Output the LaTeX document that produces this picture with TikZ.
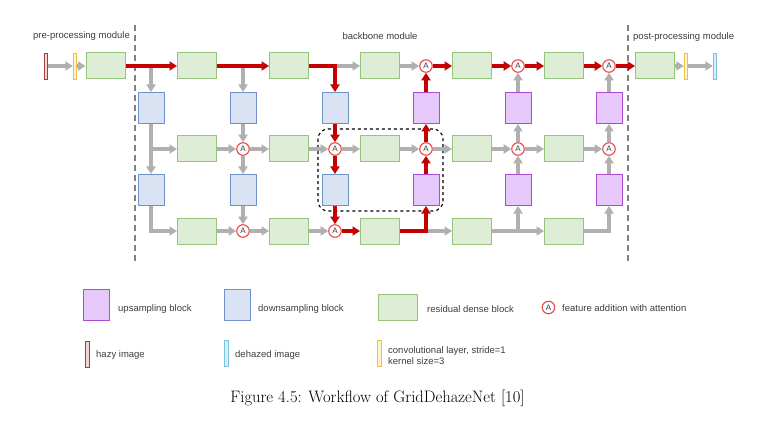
\documentclass[tikz,border=0pt]{standalone}
\usepackage{fontspec}
\usetikzlibrary{arrows.meta}
\newfontfamily\labelfont{Liberation Sans}

\definecolor{rdbfill}{RGB}{222,237,214}
\definecolor{rdbline}{RGB}{150,196,125}
\definecolor{dwnfill}{RGB}{218,227,243}
\definecolor{dwnline}{RGB}{112,144,204}
\definecolor{upfill}{RGB}{230,201,250}
\definecolor{upline}{RGB}{172,74,212}
\definecolor{hazyfill}{RGB}{246,212,212}
\definecolor{hazyline}{RGB}{170,60,60}
\definecolor{convfill}{RGB}{255,244,205}
\definecolor{convline}{RGB}{242,190,60}
\definecolor{clearfill}{RGB}{215,238,250}
\definecolor{clearline}{RGB}{125,195,225}
\definecolor{flowgray}{RGB}{176,176,176}
\definecolor{flowred}{RGB}{196,0,0}
\definecolor{addred}{RGB}{236,70,70}
\definecolor{txtgray}{RGB}{60,60,60}

\tikzset{
  rdb/.style={draw=rdbline, fill=rdbfill, line width=1pt, minimum width=39pt, minimum height=26pt, inner sep=0pt},
  dwn/.style={draw=dwnline, fill=dwnfill, line width=1pt, minimum width=26pt, minimum height=31pt, inner sep=0pt},
  upb/.style={draw=upline, fill=upfill, line width=1pt, minimum width=26pt, minimum height=31pt, inner sep=0pt},
  addA/.style={circle, draw=addred, fill=white, line width=1.1pt, minimum size=12.5pt, inner sep=0pt,
    font=\labelfont\fontsize{8}{8}\selectfont, text=txtgray},
  thinbar/.style={line width=0.8pt, minimum width=3.5pt, minimum height=26pt, inner sep=0pt},
  hazybar/.style={thinbar, draw=hazyline, fill=hazyfill},
  convbar/.style={thinbar, draw=convline, fill=convfill},
  clearbar/.style={thinbar, draw=clearline, fill=clearfill},
  gflow/.style={draw=flowgray, line width=3.2pt, -{Triangle[length=7.5pt,width=9pt]}},
  rflow/.style={draw=flowred, line width=3.2pt, -{Triangle[length=7.5pt,width=9pt]}},
  lbl/.style={font=\labelfont\fontsize{9.5}{11}\selectfont, text=txtgray, inner sep=0pt},
  moduleline/.style={draw=black!50, line width=2.6pt, dash pattern=on 6pt off 4pt}
}

\begin{document}
\begin{tikzpicture}[x=1pt, y=-1pt]

  \useasboundingbox (0,0) rectangle (762,422);

  % module separators and titles
  \draw[moduleline] (135,25) -- (135,263);
  \draw[moduleline] (628,25) -- (628,263);
  \node[lbl, anchor=west] (pretitle) at (33,36) {pre-processing module};
  \node[lbl] (backtitle) at (380,36) {backbone module};
  \node[lbl, anchor=west] (posttitle) at (633,37) {post-processing module};

  % highlighted cell
  \draw[black, line width=1.1pt, dashed, rounded corners=10pt] (318,129) rectangle (443,211);

  % pre-processing
  \node[hazybar] (hazy) at (46,66) {};
  \node[convbar] (convin) at (75,66) {};
  \node[rdb] (rdbin) at (105.5,66) {};

  % row 0
  \node[rdb] (g01) at (197,66) {};
  \node[rdb] (g03) at (289,66) {};
  \node[rdb] (g05) at (380,66) {};
  \node[addA] (a06) at (426,66) {A};
  \node[rdb] (g07) at (472,66) {};
  \node[addA] (a08) at (518,66) {A};
  \node[rdb] (g09) at (564,66) {};
  \node[addA] (a010) at (609,66) {A};

  % post-processing
  \node[rdb] (rdbout) at (655,66) {};
  \node[convbar] (convout) at (686,66) {};
  \node[clearbar] (dehazed) at (715,66) {};

  % sampling blocks between row 0 and row 1
  \node[dwn] (d0a) at (151,108) {};
  \node[dwn] (d2a) at (243,108) {};
  \node[dwn] (d4a) at (335,108) {};
  \node[upb] (u6a) at (426,108) {};
  \node[upb] (u8a) at (518,108) {};
  \node[upb] (u10a) at (609,108) {};

  % row 1
  \node[rdb] (g11) at (197,149) {};
  \node[addA] (a12) at (243,149) {A};
  \node[rdb] (g13) at (289,149) {};
  \node[addA] (a14) at (335,149) {A};
  \node[rdb] (g15) at (380,149) {};
  \node[addA] (a16) at (426,149) {A};
  \node[rdb] (g17) at (472,149) {};
  \node[addA] (a18) at (518,149) {A};
  \node[rdb] (g19) at (564,149) {};
  \node[addA] (a110) at (609,149) {A};

  % sampling blocks between row 1 and row 2
  \node[dwn] (d0b) at (151,190) {};
  \node[dwn] (d2b) at (243,190) {};
  \node[dwn] (d4b) at (335,190) {};
  \node[upb] (u6b) at (426,190) {};
  \node[upb] (u8b) at (518,190) {};
  \node[upb] (u10b) at (609,190) {};

  % row 2
  \node[rdb] (g21) at (197,231) {};
  \node[addA] (a22) at (243,231) {A};
  \node[rdb] (g23) at (289,231) {};
  \node[addA] (a24) at (335,231) {A};
  \node[rdb] (g25) at (380,231) {};
  \node[rdb] (g27) at (472,231) {};
  \node[rdb] (g29) at (564,231) {};

  % branch points
  \coordinate (j00) at (151,66);
  \coordinate (j02) at (243,66);
  \coordinate (j04) at (335,66);
  \coordinate (j10) at (151,149);
  \coordinate (j26) at (426,231);
  \coordinate (j28) at (518,231);

  % gray connectors
  \draw[gflow] (hazy) -- (convin);
  \draw[gflow] (convin) -- (rdbin);
  \draw[gflow] (j00) -- (d0a);
  \draw[gflow] (j02) -- (d2a);
  \draw[gflow] (j04) -- (g05);
  \draw[gflow] (g05) -- (a06);
  \draw[gflow] (d0a) -- (d0b);
  \draw[gflow] (j10) -- (g11);
  \draw[gflow] (d0b.south) |- (g21);
  \draw[gflow] (d2a) -- (a12);
  \draw[gflow] (a12) -- (d2b);
  \draw[gflow] (d2b) -- (a22);
  \draw[gflow] (g11) -- (a12);
  \draw[gflow] (a12) -- (g13);
  \draw[gflow] (g13) -- (a14);
  \draw[gflow] (a14) -- (g15);
  \draw[gflow] (g15) -- (a16);
  \draw[gflow] (a16) -- (g17);
  \draw[gflow] (g17) -- (a18);
  \draw[gflow] (a18) -- (g19);
  \draw[gflow] (g19) -- (a110);
  \draw[gflow] (u8b) -- (a18);
  \draw[gflow] (a18) -- (u8a);
  \draw[gflow] (u8a) -- (a08);
  \draw[gflow] (u10b) -- (a110);
  \draw[gflow] (a110) -- (u10a);
  \draw[gflow] (u10a) -- (a010);
  \draw[gflow] (g21) -- (a22);
  \draw[gflow] (a22) -- (g23);
  \draw[gflow] (g23) -- (a24);
  \draw[gflow] (j26) -- (g27);
  \draw[gflow] (g27) -- (g29);
  \draw[gflow] (j28) -- (u8b);
  \draw[gflow] (g29.east) -| (u10b);
  \draw[gflow] (rdbout) -- (convout);
  \draw[gflow] (convout) -- (dehazed);

  % red connectors (highlighted path)
  \draw[rflow] (rdbin) -- (g01);
  \draw[rflow] (g01) -- (g03);
  \draw[rflow] (g03.east) -| (d4a);
  \draw[rflow] (d4a) -- (a14);
  \draw[rflow] (a14) -- (d4b);
  \draw[rflow] (d4b) -- (a24);
  \draw[rflow] (a24) -- (g25);
  \draw[rflow] (g25.east) -| (u6b);
  \draw[rflow] (u6b) -- (a16);
  \draw[rflow] (a16) -- (u6a);
  \draw[rflow] (u6a) -- (a06);
  \draw[rflow] (a06) -- (g07);
  \draw[rflow] (g07) -- (a08);
  \draw[rflow] (a08) -- (g09);
  \draw[rflow] (g09) -- (a010);
  \draw[rflow] (a010) -- (rdbout);

  % legend
  \node[upb] (keyup) at (96.5,304.5) {};
  \node[lbl, anchor=west] (keyuptxt) at (118,309) {upsampling block};
  \node[dwn] (keydown) at (237.5,304.5) {};
  \node[lbl, anchor=west] (keydowntxt) at (258,309) {downsampling block};
  \node[rdb] (keyrdb) at (398,307) {};
  \node[lbl, anchor=west] (keyrdbtxt) at (427,309) {residual dense block};
  \node[addA] (keyadd) at (548.5,307.5) {A};
  \node[lbl, anchor=west] (keyaddtxt) at (562,308) {feature addition with attention};
  \node[hazybar] (keyhazy) at (87.5,354) {};
  \node[lbl, anchor=west] (keyhazytxt) at (96,355) {hazy image};
  \node[clearbar] (keyclear) at (226.5,353) {};
  \node[lbl, anchor=west] (keycleartxt) at (235,355) {dehazed image};
  \node[convbar] (keyconv) at (379.5,353) {};
  \node[lbl, anchor=west, align=left] (keyconvtxt) at (388,355.5) {convolutional layer, stride=1\\kernel size=3};

  % caption
  \node[font=\fontsize{16.6}{20}\selectfont, inner sep=0pt] (caption) at (377.5,398) {Figure 4.5: Workflow of GridDehazeNet [10]};

\end{tikzpicture}
\end{document}
